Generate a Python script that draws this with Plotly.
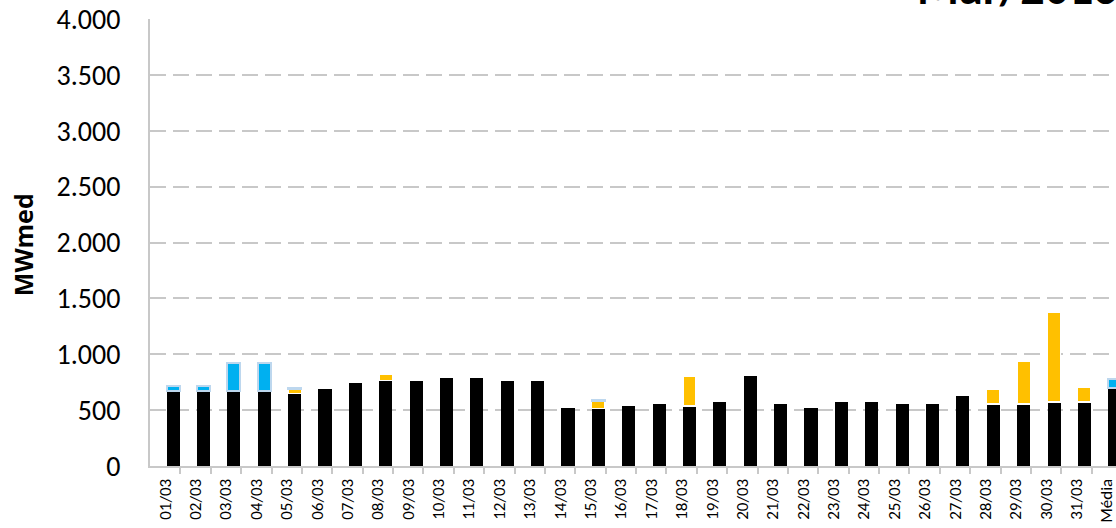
import plotly.graph_objects as go

dates = ["01/03", "02/03", "03/03", "04/03", "05/03", "06/03", "07/03", "08/03", "09/03", "10/03",
         "11/03", "12/03", "13/03", "14/03", "15/03", "16/03", "17/03", "18/03", "19/03", "20/03",
         "21/03", "22/03", "23/03", "24/03", "25/03", "26/03", "27/03", "28/03", "29/03", "30/03",
         "31/03", "Média"]
black = [675, 675, 674, 674, 650, 689, 745, 763, 763, 784, 784, 763, 763, 516, 516, 537, 558, 537,
         575, 805, 558, 516, 573, 573, 555, 555, 629, 555, 555, 573, 573, 701]
orange = [0, 0, 0, 0, 35, 0, 0, 60, 0, 0, 0, 0, 0, 0, 63, 0, 0, 268, 0, 0, 0, 0, 0, 0, 0, 0, 0,
          134, 385, 805, 134, 0]
blue = [40, 40, 245, 245, 15, 0, 0, 0, 0, 0, 0, 0, 0, 0, 15, 0, 0, 0, 0, 0, 0, 0, 0, 0, 0, 0, 0,
        0, 0, 0, 0, 75]
y_ticks = [0, 500, 1000, 1500, 2000, 2500, 3000, 3500, 4000]

FONT = "Carlito, Lato, sans-serif"
n = len(dates)
idx = list(range(n))
xb = [i + 0.26 for i in idx]


def nz(v):
    return [a if a else None for a in v]


fig = go.Figure()
fig.add_trace(go.Bar(x=xb, y=black, width=0.43, marker=dict(color="#000000", line=dict(width=0)),
                     name="base"))
fig.add_trace(go.Bar(x=xb, y=nz(orange), width=0.43,
                     marker=dict(color="#FFC000", line=dict(color="#FFFFFF", width=1.2)),
                     name="orange"))
fig.add_trace(go.Bar(x=xb, y=nz(blue), width=0.43,
                     marker=dict(color="#00B0F0", line=dict(color="#BDD7EE", width=2)),
                     name="blue"))

fig.update_layout(
    barmode="stack",
    width=1116, height=528,
    margin=dict(l=150, r=0, t=19, b=62),
    plot_bgcolor="white", paper_bgcolor="white",
    showlegend=False,
    separators=",.",
    font=dict(family=FONT, color="#000000"),
    xaxis=dict(
        range=[-0.5, 31.3],
        tickmode="array", tickvals=idx, ticktext=dates,
        tickangle=-90, tickfont=dict(size=17, family=FONT),
        ticks="", ticklabelstandoff=4, ticklabeloverflow="allow",
        showgrid=False, zeroline=False,
        showline=True, linecolor="#C8C8C8", linewidth=2,
        minor=dict(tickmode="array", tickvals=[i + 0.5 for i in idx[:-1]], ticks="outside",
                   ticklen=6, tickcolor="#C8C8C8", tickwidth=2, showgrid=False),
    ),
    yaxis=dict(
        range=[0, 4000],
        tickmode="array", tickvals=y_ticks, tickformat=",d",
        tickfont=dict(size=28, family=FONT),
        ticks="", ticklabelstandoff=22,
        showgrid=True, gridcolor="#C8C8C8", gridwidth=2, griddash="16px,7px",
        zeroline=False,
        showline=True, linecolor="#C8C8C8", linewidth=2,
    ),
)

fig.add_annotation(text="<b>MWmed</b>", xref="paper", yref="paper", x=0, y=0.494,
                   xanchor="center", yanchor="middle",
                   xshift=-127, textangle=-90, showarrow=False,
                   font=dict(size=25, family="Open Sans, sans-serif", color="#000000"))
fig.add_annotation(text="<b>Mar/2016</b>", xref="paper", yref="paper", x=(915 - 150) / 966,
                   y=(466 - 19) / 447, xanchor="left", yanchor="bottom", showarrow=False,
                   font=dict(size=48, family=FONT, color="#000000"))

fig.write_html("out.html")
